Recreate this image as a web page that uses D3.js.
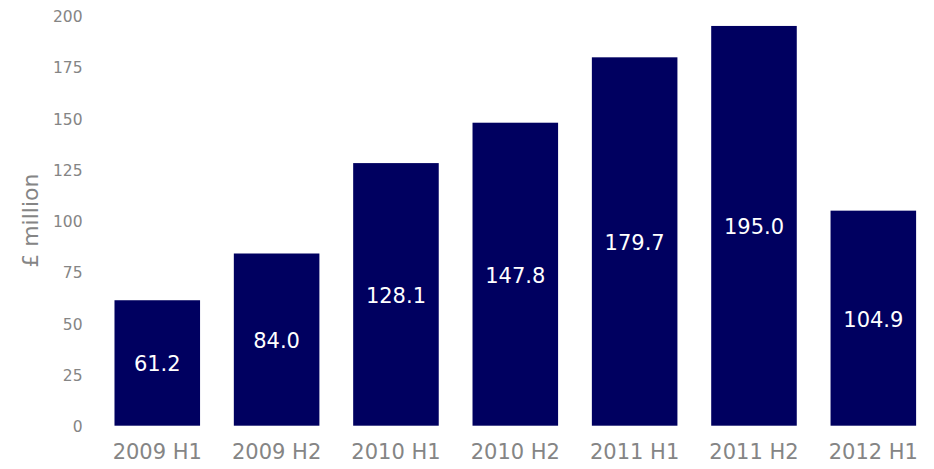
<!DOCTYPE html>
<html>
<head>
<meta charset="utf-8">
<script src="https://cdn.jsdelivr.net/npm/d3@7"></script>
<style>
  html, body { margin: 0; padding: 0; background: #ffffff; }
  svg { display: block; font-family: "DejaVu Sans", Verdana, sans-serif; }
</style>
</head>
<body>
<svg id="chart" width="934" height="469"></svg>
<script>
// Half-year totals, £ million
const categories = ["2009 H1", "2009 H2", "2010 H1", "2010 H2", "2011 H1", "2011 H2", "2012 H1"];
const values = [61.2, 84.0, 128.1, 147.8, 179.7, 195.0, 104.9];
const yTicks = [0, 25, 50, 75, 100, 125, 150, 175, 200];
const yTitle = "£ million";

const svg = d3.select("#chart");
const plot = { left: 97.6, right: 933, top: 15.7, bottom: 425.7 };

const x = d3.scaleBand()
  .domain(categories)
  .range([plot.left, plot.right])
  .paddingInner(0.283)
  .paddingOuter(0.1415);

const y = d3.scaleLinear()
  .domain([0, 200])
  .range([plot.bottom, plot.top]);

// Y axis labels (no line, no tick marks)
const yAxis = d3.axisLeft(y).tickValues(yTicks).tickSize(0).tickPadding(0);
const gy = svg.append("g")
  .attr("transform", `translate(82.5,1)`)
  .call(yAxis);
gy.select(".domain").remove();
gy.selectAll("text")
  .attr("fill", "#858585")
  .style("font-size", "15.5px")
  .style("font-family", "'DejaVu Sans', Verdana, sans-serif");

// X axis labels
const xAxis = d3.axisBottom(x).tickSize(0).tickPadding(0);
const gx = svg.append("g")
  .attr("transform", `translate(0,${plot.bottom + 18})`)
  .call(xAxis);
gx.select(".domain").remove();
gx.selectAll("text")
  .attr("fill", "#858585")
  .style("font-size", "21px")
  .style("font-family", "'DejaVu Sans', Verdana, sans-serif");

// Bars
svg.append("g")
  .selectAll("rect")
  .data(values)
  .join("rect")
  .attr("x", (d, i) => x(categories[i]))
  .attr("width", x.bandwidth())
  .attr("y", d => y(d))
  .attr("height", d => y(0) - y(d))
  .attr("fill", "#000060");

// Value labels centred in each bar
svg.append("g")
  .selectAll("text")
  .data(values)
  .join("text")
  .attr("x", (d, i) => x(categories[i]) + x.bandwidth() / 2)
  .attr("y", d => (y(d) + y(0)) / 2 + 1.5)
  .attr("text-anchor", "middle")
  .attr("dominant-baseline", "central")
  .attr("fill", "#ffffff")
  .style("font-size", "21px")
  .text(d => d.toFixed(1));

// Y axis title
svg.append("text")
  .attr("transform", `translate(30,${(plot.top + plot.bottom) / 2}) rotate(-90)`)
  .attr("text-anchor", "middle")
  .attr("dominant-baseline", "central")
  .attr("fill", "#858585")
  .style("font-size", "22px")
  .text(yTitle);
</script>
</body>
</html>
